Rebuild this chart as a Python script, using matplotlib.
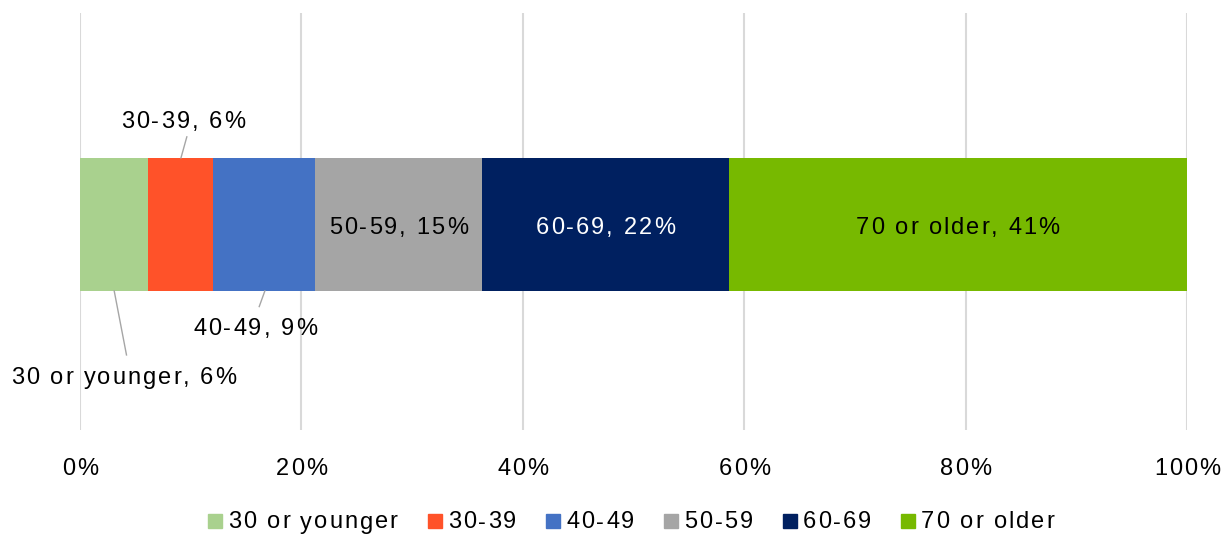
import matplotlib
matplotlib.use("Agg")
import matplotlib.pyplot as plt
from matplotlib.lines import Line2D
from matplotlib.font_manager import FontProperties, findfont, get_font
from matplotlib.ft2font import LoadFlags
from matplotlib.transforms import offset_copy, blended_transform_factory

FAMILY = 'Liberation Sans'
plt.rcParams['font.family'] = [FAMILY, 'DejaVu Sans']

# age groups and their share of respondents (%)
groups = ['30 or younger', '30-39', '40-49', '50-59', '60-69', '70 or older']
shares = [6.1, 5.9, 9.2, 15.1, 22.3, 41.4]
ticks = [0, 20, 40, 60, 80, 100]
colors = ['#A9D18E', '#FF5229', '#4472C4', '#A5A5A5', '#002060', '#77B900']
text_colors = ['black', 'black', 'black', 'black', 'white', 'black']

W, H = 1227, 536
FS = 17
TRACK = 2.0 * 72 / 100   # extra letter spacing, in points
CAP = 0.36 * FS          # half cap height, for vertical centring

fig = plt.figure(figsize=(W / 100, H / 100), dpi=100)
ax = fig.add_axes([80 / W, 106 / H, 1107 / W, 417 / H])

_font = get_font(findfont(FontProperties(family=FAMILY)))


def advances(s):
    _font.set_size(FS, 72)
    return [_font.load_char(ord(c), flags=LoadFlags.NO_HINTING).linearHoriAdvance / 65536
            for c in s]


def spaced_text(x, y, s, transform, ha='center', color='black', zorder=5):
    adv = advances(s)
    total = sum(adv) + TRACK * (len(s) - 1)
    pos = {'left': 0, 'center': -total / 2, 'right': -total}[ha]
    for c, a in zip(s, adv):
        if c != ' ':
            t = offset_copy(transform, fig=fig, x=pos, y=-CAP, units='points')
            fig.text(x, y, c, transform=t, ha='left', va='baseline',
                     fontsize=FS, color=color, zorder=zorder)
        pos += a + TRACK
    return total


bar_y = 0.493
bar_h = 0.319
left = 0
segments = []
for g, v, c in zip(groups, shares, colors):
    ax.barh(bar_y, v, left=left, height=bar_h, color=c, edgecolor='none', zorder=3)
    segments.append((left, v))
    left += v

ax.set_xlim(0, 100)
ax.set_ylim(0, 1)
ax.set_xticks(ticks)
ax.set_xticklabels([])
ax.set_yticks([])
ax.tick_params(axis='x', length=0)
ax.grid(axis='x', color='#D9D9D9', lw=1.5, zorder=0)
for s in ax.spines.values():
    s.set_visible(False)

# labels that fit inside their segment
for i in (3, 4, 5):
    l, v = segments[i]
    spaced_text(l + v / 2, bar_y - 0.002, f"{groups[i]}, {v:.0f}%", ax.transData,
                color=text_colors[i])

# small segments get labels outside with leader lines
top, bottom = bar_y + bar_h / 2, bar_y - bar_h / 2
callouts = {
    0: ((3.95, 0.131), (3.09, bottom), (4.2, 0.18)),
    1: ((9.3, 0.745), (9.12, top), (9.65, 0.703)),
    2: ((15.8, 0.249), (16.7, bottom), (16.19, 0.296)),
}
for i, (txt_pos, tip, start) in callouts.items():
    l, v = segments[i]
    spaced_text(txt_pos[0], txt_pos[1], f"{groups[i]}, {v:.0f}%", ax.transData)
    ax.add_line(Line2D([start[0], tip[0]], [start[1], tip[1]], color='#A6A6A6',
                       lw=1.0, zorder=4))

# x tick labels
tick_tr = blended_transform_factory(ax.transData, fig.transFigure)
for t in ticks:
    spaced_text(t, 1 - 466.5 / H, f"{t}%", tick_tr)

# legend row
sq = 14
gap_text = 6
gap_item = 30
px_pt = 72 / 100
widths = []
for g in groups:
    adv = advances(g)
    widths.append((sum(adv) + TRACK * (len(g) - 1)) / px_pt)
row_w = sum(sq + gap_text + w for w in widths) + gap_item * (len(groups) - 1)
x = 631 - row_w / 2
ly = 521
for g, c, w in zip(groups, colors, widths):
    fig.patches.append(plt.Rectangle((x / W, (H - ly - sq / 2) / H), sq / W, sq / H,
                                     transform=fig.transFigure, color=c, figure=fig))
    spaced_text((x + sq + gap_text) / W, 1 - (ly - 1) / H, g, fig.transFigure, ha='left')
    x += sq + gap_text + w + gap_item

fig.savefig('out.png', dpi=100)
